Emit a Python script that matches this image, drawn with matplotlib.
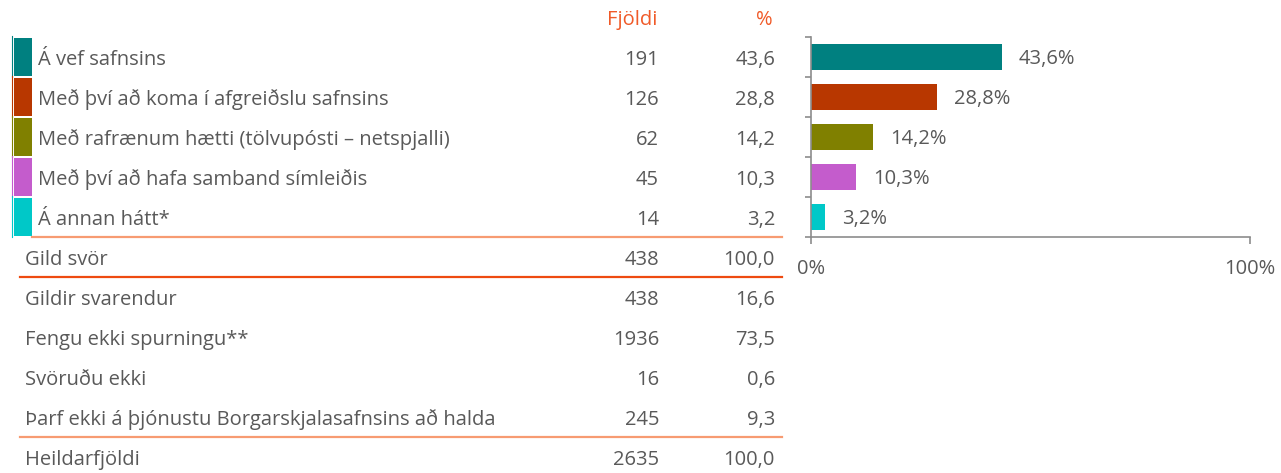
import matplotlib
matplotlib.use("Agg")
import matplotlib.pyplot as plt

plt.rcParams['font.family'] = ['Open Sans', 'DejaVu Sans']

# svarmöguleikar og fjöldi
svor = ["Á vef safnsins",
        "Með því að koma í afgreiðslu safnsins",
        "Með rafrænum hætti (tölvupósti – netspjalli)",
        "Með því að hafa samband símleiðis",
        "Á annan hátt*"]
fjoldi = [191, 126, 62, 45, 14]
hlutfall = [43.6, 28.8, 14.2, 10.3, 3.2]
litir = ["#008080", "#B83700", "#808000", "#C45CCC", "#00C8C8"]

gild_svor = ("Gild svör", 438, 100.0)
adrir = ["Gildir svarendur", "Fengu ekki spurningu**", "Svöruðu ekki",
         "Þarf ekki á þjónustu Borgarskjalasafnsins að halda"]
adrir_fjoldi = [438, 1936, 16, 245]
adrir_hlutfall = [16.6, 73.5, 0.6, 9.3]
heild = ("Heildarfjöldi", 2635, 100.0)

W, H = 1281, 473
grar = "#595959"
appelsina = "#F05A28"
ljos_lina = "#F79B72"
dokk_lina = "#EE4A10"
fs = 14.5

def isl(v):
    return f"{v:.1f}".replace(".", ",")

fig = plt.figure(figsize=(W / 100, H / 100), dpi=100)

# tafla til vinstri, í pixlahnitum
tab = fig.add_axes([0, 0, 1, 1])
tab.set_xlim(0, W)
tab.set_ylim(H, 0)
tab.axis("off")

x_fj, x_pr = 659, 775
tab.text(657, 20, "Fjöldi", color=appelsina, fontsize=fs, ha="right", va="center")
tab.text(773, 20, "%", color=appelsina, fontsize=fs, ha="right", va="center")

def rod(y, x_lab, texti, n, p):
    y = y + 2
    tab.text(x_lab, y, texti, color=grar, fontsize=fs, ha="left", va="center")
    tab.text(x_fj, y, str(n), color=grar, fontsize=fs, ha="right", va="center")
    tab.text(x_pr, y, isl(p), color=grar, fontsize=fs, ha="right", va="center")

for i, (s, n, p, c) in enumerate(zip(svor, fjoldi, hlutfall, litir)):
    y = 58 + 40 * i
    tab.add_patch(plt.Rectangle((14, y - 20), 18, 38, color=c, lw=0))
    tab.plot([12, 12], [y - 22, y + 19], color=c, lw=0.8)
    rod(y, 38, s, n, p)

tab.plot([32, 782], [237, 237], color=ljos_lina, lw=1.6)
rod(258, 25, *gild_svor)
tab.plot([20, 782], [277, 277], color=dokk_lina, lw=1.6)
for i, (s, n, p) in enumerate(zip(adrir, adrir_fjoldi, adrir_hlutfall)):
    rod(298 + 40 * i, 25, s, n, p)
tab.plot([20, 782], [437, 437], color=ljos_lina, lw=1.6)
rod(458, 25, *heild)

# súlurit til hægri
ax = fig.add_axes([811 / W, 1 - 237 / H, 439 / W, 200 / H])
y_pos = range(len(hlutfall))
ax.barh(y_pos, hlutfall, height=0.65, color=litir)
for yy, p in zip(y_pos, hlutfall):
    ax.annotate(isl(p) + "%", (p, yy), xytext=(12, -1.5), textcoords="offset points",
                va="center", ha="left", color=grar, fontsize=fs)
ax.set_xlim(0, 100)
ax.set_ylim(len(hlutfall) - 0.5, -0.5)
ax.set_yticks([i - 0.5 for i in range(len(hlutfall) + 1)])
ax.set_yticklabels([])
ax.set_xticks([0, 100])
ax.set_xticklabels(["0%", "100%"])
ax.tick_params(axis="y", direction="out", length=4, color="#8C8C8C", width=1.2)
ax.tick_params(axis="x", direction="out", length=5, color="#8C8C8C", width=1.2,
               labelcolor=grar, labelsize=fs, pad=11)
for side in ["top", "right"]:
    ax.spines[side].set_visible(False)
for side in ["left", "bottom"]:
    ax.spines[side].set_color("#8C8C8C")
    ax.spines[side].set_linewidth(1.2)
ax.set_facecolor("none")

fig.savefig("out.png", dpi=100)
